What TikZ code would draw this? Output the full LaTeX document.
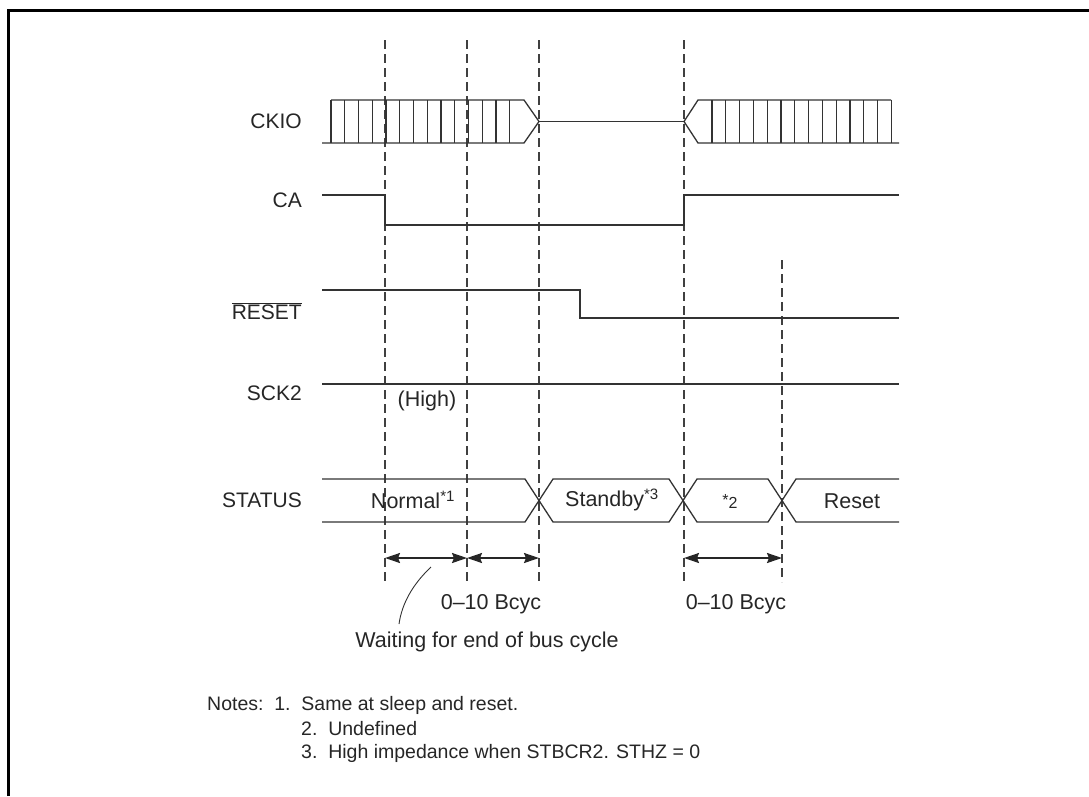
\documentclass[tikz,border=0pt]{standalone}
\usepackage{fontspec}
\setmainfont{Liberation Sans}
\usetikzlibrary{arrows.meta}
\begin{document}
\begin{tikzpicture}[x=1pt,y=-1pt,
  wave/.style={draw=black!80,line width=1.3pt},
  guide/.style={draw=black!75,line width=1.3pt,dash pattern=on 9pt off 5pt},
  dim/.style={draw=black!85,line width=2pt,{Stealth[length=15pt,width=10pt,inset=2pt]}-{Stealth[length=15pt,width=10pt,inset=2pt]}},
  sig/.style={anchor=east,font=\fontsize{21}{24}\selectfont,text=black!85,inner sep=0pt},
  txt/.style={font=\fontsize{21.5}{24}\selectfont,text=black!85,inner sep=0pt},
  note/.style={font=\fontsize{19.5}{22}\selectfont,text=black!85,inner sep=0pt,anchor=west},
  frame/.style={draw=black,line width=3pt}]
\useasboundingbox (0,0) rectangle (1089,796);
% frame
\draw[frame] (8,796) -- (8,10) -- (1089,10);
% guides
\foreach \gx/\gy in {385/40,467/40,539/40,684/40,782/260}
  \draw[guide] (\gx,\gy) -- (\gx,582);
% signal labels
\node[sig] (lckio) at (302,121) {CKIO};
\node[sig] (lca) at (302,200) {CA};
\node[sig] (lreset) at (302,311) {$\overline{\mbox{RESET}}$};
\node[sig] (lsck) at (302,393) {SCK2};
\node[sig] (lstat) at (302,500) {STATUS};
% CKIO
\draw[wave] (322,143) -- (524,143) -- (539,121.5) -- (524,100) -- (331,100);
\foreach \i in {0,...,13} \draw[wave] (331+13.75*\i,100) -- (331+13.75*\i,143);
\draw[wave] (539,121.5) -- (684,121.5);
\draw[wave] (899,143) -- (698,143) -- (684,121.5) -- (698,100) -- (891,100);
\foreach \i in {0,...,13} \draw[wave] (712+13.8*\i,100) -- (712+13.8*\i,143);
% CA
\draw[wave] (322,195) -- (385,195) -- (385,225) -- (684,225) -- (684,195) -- (899,195);
% RESET
\draw[wave] (322,290) -- (580,290) -- (580,318) -- (899,318);
% SCK2
\draw[wave] (322,384) -- (899,384);
\node[txt] (high) at (427,401) {(High)};
% STATUS
\draw[wave] (322,479) -- (525,479) -- (553,522) -- (669,522) -- (697,479) -- (768,479) -- (796,522) -- (899,522);
\draw[wave] (322,522) -- (525,522) -- (553,479) -- (669,479) -- (697,522) -- (768,522) -- (796,479) -- (899,479);
\node[txt] (normal) at (413,500) {Normal\textsuperscript{*1}};
\node[txt] (standby) at (612,500) {Standby\textsuperscript{*3}};
\node[txt] (undef) at (730,501) {\fontsize{16}{18}\selectfont\raisebox{3pt}{*}2};
\node[txt] (reset) at (852,501) {Reset};
% dimension arrows
\coordinate (a1) at (385,558);
\coordinate (a2) at (467,558);
\coordinate (a3) at (539,558);
\coordinate (a4) at (684,558);
\coordinate (a5) at (782,558);
\draw[dim] (a1) -- (a2);
\draw[dim] (a2) -- (a3);
\draw[dim] (a4) -- (a5);
\node[txt] (b1) at (491,604) {0–10 Bcyc};
\node[txt] (b2) at (736,604) {0–10 Bcyc};
% leader
\node[txt] (wait) at (487,642) {Waiting for end of bus cycle};
\coordinate (ls) at (431,567);
\coordinate (le) at (399,624);
\draw[draw=black!80,line width=0.9pt] (ls) .. controls (413,584) and (402,603) .. (le);
% notes
\node[note] (n1) at (207,705) {Notes:\ \ 1.\ \ Same at sleep and reset.};
\node[note] (n2) at (301,729) {2.\ \ Undefined};
\node[note] (n3) at (301,753) {3.\ \ High impedance when STBCR2. STHZ = 0};
\end{tikzpicture}
\end{document}
